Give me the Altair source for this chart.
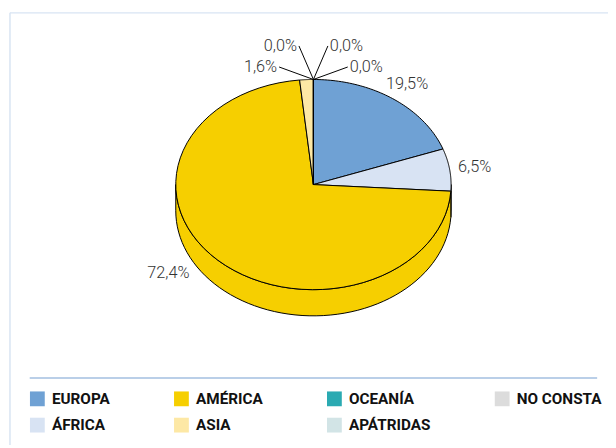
import altair as alt
import pandas as pd

# ---- data ----
categories = ["EUROPA", "ÁFRICA", "AMÉRICA", "ASIA", "OCEANÍA", "APÁTRIDAS", "NO CONSTA"]
values = [19.5, 6.5, 72.4, 1.6, 0.0, 0.0, 0.0]
legend_order = ["EUROPA", "AMÉRICA", "OCEANÍA", "NO CONSTA", "ÁFRICA", "ASIA", "APÁTRIDAS"]
colors = {
    "EUROPA": "#6FA1D4",
    "ÁFRICA": "#D8E3F3",
    "AMÉRICA": "#F6CF00",
    "ASIA": "#FDE8A5",
    "OCEANÍA": "#2AAAB2",
    "APÁTRIDAS": "#D2E4E6",
    "NO CONSTA": "#DCDCDC",
}

df = pd.DataFrame({"cat": categories, "val": values, "idx": list(range(len(categories)))})

W, H = 608, 440
XDOM = [-2.2186, 2.1398]
YDOM = [-2.4789, 1.6526]
DEPTH = 0.249
LBL_FONT = "Roboto"

fill_scale = alt.Scale(domain=legend_order, range=[colors[c] for c in legend_order])


def X(f):
    return alt.X(f, type="quantitative", scale=alt.Scale(domain=XDOM, nice=False, zero=False), axis=None)


def Y(f):
    return alt.Y(f, type="quantitative", scale=alt.Scale(domain=YDOM, nice=False, zero=False), axis=None)


base = (
    alt.Chart(df)
    .transform_window(cum="sum(val)", sort=[alt.SortField("idx")], frame=[None, 0])
    .transform_joinaggregate(total="sum(val)")
    .transform_calculate(
        a0="2*PI*(datum.cum-datum.val)/datum.total",
        a1="2*PI*datum.cum/datum.total",
    )
    .transform_calculate(
        am="(datum.a0+datum.a1)/2",
        pct="replace(format(100*datum.val/datum.total,'.1f'),'.',',')+'%'",
    )
)

legend = alt.Legend(
    title=None,
    orient="none",
    legendX=22,
    legendY=385,
    direction="horizontal",
    columns=4,
    columnPadding=64,
    rowPadding=10,
    symbolType="square",
    symbolSize=225,
    symbolStrokeWidth=0,
    labelOffset=7,
    labelFont=LBL_FONT,
    labelFontWeight="bold",
    labelFontSize=15.5,
    labelColor="#111111",
    labelLimit=300,
)

# side wall (visible front half)
side = (
    base.transform_calculate(s0="max(datum.a0, PI/2)", s1="min(datum.a1, 3*PI/2)")
    .transform_filter("datum.s1 > datum.s0")
    .transform_calculate(pts="sequence(0, 61)")
    .transform_flatten(["pts"])
    .transform_calculate(th="datum.s0+(datum.s1-datum.s0)*datum.pts/60")
    .transform_calculate(x="sin(datum.th)", y="cos(datum.th)", yb=f"cos(datum.th)-{DEPTH}")
    .mark_area(stroke="black", strokeWidth=1, strokeJoin="round")
    .encode(
        x=X("x"),
        y=Y("y"),
        y2=alt.Y2("yb"),
        fill=alt.Fill("cat:N", scale=fill_scale, legend=legend),
    )
)

# top face slices
top = (
    base.transform_calculate(pts="sequence(0, 63)")
    .transform_flatten(["pts"])
    .transform_calculate(th="datum.a0+(datum.a1-datum.a0)*(datum.pts-1)/60")
    .transform_calculate(
        x="(datum.pts==0||datum.pts==62) ? 0 : sin(datum.th)",
        y="(datum.pts==0||datum.pts==62) ? 0 : cos(datum.th)",
    )
    .mark_line(stroke="black", strokeWidth=1, strokeJoin="round")
    .encode(
        x=X("x"),
        y=Y("y"),
        fill=alt.Fill("cat:N", scale=fill_scale, legend=legend),
        detail="cat:N",
        order=alt.Order("pts:Q"),
    )
)

# labels for large slices
big = (
    base.transform_filter("datum.val >= 2")
    .transform_calculate(
        lx="1.183*sin(datum.am) + 0.466*max(0,-cos(datum.am))*sin(datum.am)",
        ly="1.174*cos(datum.am)",
    )
    .mark_text(font=LBL_FONT, fontSize=16.5, fontWeight=300, color="#333333", align="center", baseline="middle")
    .encode(x=X("lx"), y=Y("ly"), text="pct:N")
)

# leader lines for small slices
small = (
    base.transform_filter("datum.val < 2")
    .transform_window(k="row_number()", sort=[alt.SortField("idx")])
    .transform_joinaggregate(n="count()")
    .transform_calculate(phi="(-70 + 140*(datum.k-1)/max(1, datum.n-1))*PI/180")
    .transform_calculate(x0="sin(datum.a1)", y0="cos(datum.a1)")
    .transform_calculate(
        x1="datum.x0 + 37*sin(datum.phi)/139.5",
        y1="datum.y0 + 37*cos(datum.phi)/106.5",
    )
)
leaders = small.mark_rule(color="black", strokeWidth=1).encode(
    x=X("x0"), y=Y("y0"), x2=alt.X2("x1"), y2=alt.Y2("y1")
)
small_left = small.transform_filter("datum.phi < 0").mark_text(
    font=LBL_FONT, fontSize=16.5, fontWeight=300, color="#333333", align="right", baseline="middle", dx=-2
).encode(x=X("x1"), y=Y("y1"), text="pct:N")
small_right = small.transform_filter("datum.phi >= 0").mark_text(
    font=LBL_FONT, fontSize=16.5, fontWeight=300, color="#333333", align="left", baseline="middle", dx=2
).encode(x=X("x1"), y=Y("y1"), text="pct:N")

one = pd.DataFrame({"a": [0]})
frame_top = alt.Chart(one).mark_rule(color="#D8E4F3", strokeWidth=1.5).encode(
    x=alt.value(2), x2=alt.value(W), y=alt.value(2)
)
frame_left = alt.Chart(one).mark_rule(color="#D8E4F3", strokeWidth=1.5).encode(
    x=alt.value(2), y=alt.value(2), y2=alt.value(H)
)
separator = alt.Chart(one).mark_rule(color="#A3BFE0", strokeWidth=1.5).encode(
    x=alt.value(22), x2=alt.value(597), y=alt.value(372)
)

chart = (
    alt.layer(frame_top, frame_left, separator, side, top, leaders, big, small_left, small_right)
    .properties(width=W, height=H, autosize=alt.AutoSizeParams(type="none"), padding=0)
    .configure_view(strokeWidth=0)
)

chart.save("out.html", embed_options={"renderer": "svg", "actions": False})
